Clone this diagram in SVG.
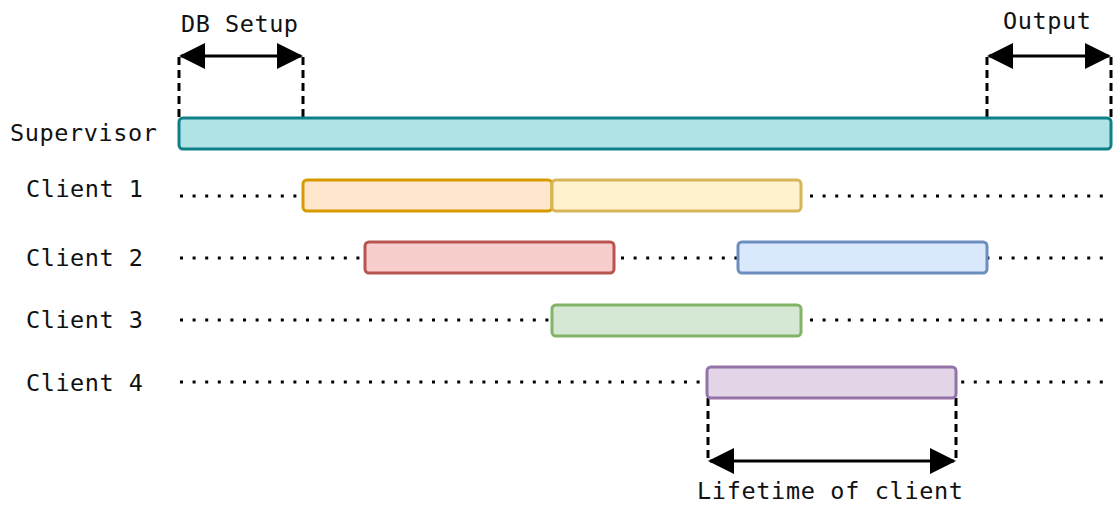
<svg xmlns="http://www.w3.org/2000/svg" width="1120" height="510" viewBox="0 0 1120 510">
  <style>
    .lbl { font-family: "DejaVu Sans Mono", "Liberation Mono", monospace; font-size: 23.5px; fill: #111; }
    .dots { stroke: #000; stroke-width: 3; stroke-dasharray: 3 9.6; fill: none; }
    .dash { stroke: #000; stroke-width: 3; stroke-dasharray: 8 5; fill: none; }
    .span { stroke: #000; stroke-width: 3; fill: none; marker-start: url(#head); marker-end: url(#head); }
    .bar { stroke-width: 3; }
  </style>
  <defs>
    <marker id="head" viewBox="0 0 26 26" refX="24" refY="13" markerWidth="26" markerHeight="26" markerUnits="userSpaceOnUse" orient="auto-start-reverse">
      <path d="M0 0 L26 13 L0 26 Z" fill="#000"/>
    </marker>
  </defs>

  <!-- timeline rows (dotted) -->
  <g id="connectors">
    <line class="dots" x1="180" y1="196" x2="1106" y2="196"/>
    <line class="dots" x1="180" y1="258" x2="1106" y2="258"/>
    <line class="dots" x1="180" y1="320" x2="1106" y2="320"/>
    <line class="dots" x1="180" y1="382" x2="1106" y2="382"/>

    <!-- span markers -->
    <line class="dash" x1="179" y1="57" x2="179" y2="118"/>
    <line class="dash" x1="303" y1="57" x2="303" y2="118"/>
    <line class="span" x1="181" y1="56" x2="301" y2="56"/>

    <line class="dash" x1="987" y1="57" x2="987" y2="118"/>
    <line class="dash" x1="1111" y1="57" x2="1111" y2="118"/>
    <line class="span" x1="989" y1="56" x2="1109" y2="56"/>

    <line class="dash" x1="708" y1="398" x2="708" y2="461"/>
    <line class="dash" x1="956" y1="398" x2="956" y2="461"/>
    <line class="span" x1="710" y1="461" x2="954" y2="461"/>
  </g>

  <!-- row labels -->
  <g id="labels">
    <text class="lbl" x="10" y="141" textLength="147" lengthAdjust="spacing">Supervisor</text>
    <text class="lbl" x="26" y="197" textLength="117" lengthAdjust="spacing">Client 1</text>
    <text class="lbl" x="26" y="266" textLength="117" lengthAdjust="spacing">Client 2</text>
    <text class="lbl" x="26" y="328" textLength="117" lengthAdjust="spacing">Client 3</text>
    <text class="lbl" x="26" y="391" textLength="117" lengthAdjust="spacing">Client 4</text>
    <text class="lbl" x="181" y="32" textLength="117" lengthAdjust="spacing">DB Setup</text>
    <text class="lbl" x="1003" y="29" textLength="88" lengthAdjust="spacing">Output</text>
    <text class="lbl" x="697" y="499" textLength="266" lengthAdjust="spacing">Lifetime of client</text>
  </g>

  <g id="supervisor">
    <rect class="bar" x="179" y="118" width="932" height="31" rx="4" fill="#b0e3e6" stroke="#0e8088"/>
  </g>
  <g id="client1-a">
    <rect class="bar" x="303" y="180" width="249" height="31" rx="4" fill="#ffe6cc" stroke="#d79b00"/>
  </g>
  <g id="client1-b">
    <rect class="bar" x="552" y="180" width="249" height="31" rx="4" fill="#fff2cc" stroke="#d6b656"/>
  </g>
  <g id="client2-a">
    <rect class="bar" x="365" y="242" width="249" height="31" rx="4" fill="#f8cecc" stroke="#b85450"/>
  </g>
  <g id="client2-b">
    <rect class="bar" x="738" y="242" width="249" height="31" rx="4" fill="#dae8fc" stroke="#6c8ebf"/>
  </g>
  <g id="client3">
    <rect class="bar" x="552" y="305" width="249" height="31" rx="4" fill="#d5e8d4" stroke="#82b366"/>
  </g>
  <g id="client4">
    <rect class="bar" x="707" y="367" width="249" height="31" rx="4" fill="#e1d5e7" stroke="#9673a6"/>
  </g>
</svg>
